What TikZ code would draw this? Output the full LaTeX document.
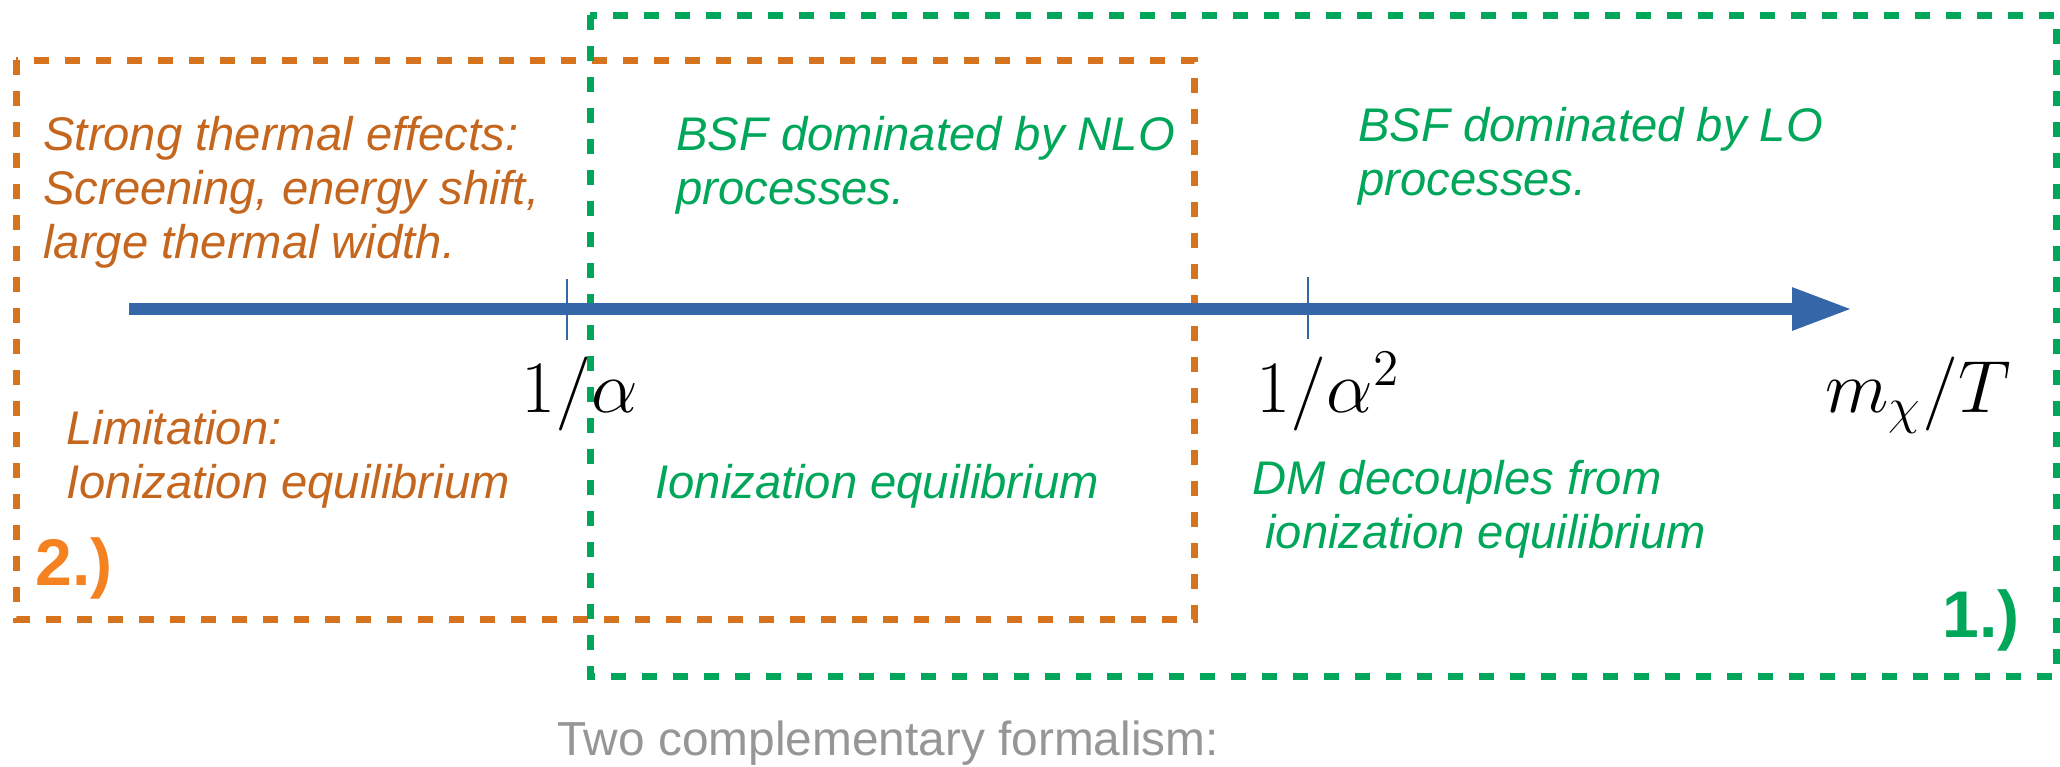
\documentclass[tikz,border=0pt]{standalone}
\usepackage[no-math]{fontspec}
\setmainfont{Liberation Sans}
\usepackage{amsmath}
\usepackage{graphicx}
\usetikzlibrary{arrows.meta}

\definecolor{boxorange}{RGB}{213,115,31}
\definecolor{txtorange}{RGB}{197,102,30}
\definecolor{numorange}{RGB}{245,130,32}
\definecolor{boxgreen}{RGB}{0,166,90}
\definecolor{axisblue}{RGB}{53,103,168}
\definecolor{capgray}{RGB}{150,150,150}

\newcommand{\bigmath}[1]{\scalebox{1.784}{$#1$}}

\tikzset{
  regionbox/.style={line width=3.5pt, dash pattern=on 7.5pt off 8pt},
  note/.style={anchor=base west, inner sep=0pt, align=left, font=\itshape\fontsize{23.6}{27}\selectfont},
  tag/.style={anchor=base west, inner sep=0pt, font=\bfseries\fontsize{33}{36}\selectfont},
  scalelabel/.style={anchor=base west, inner sep=0pt, font=\fontsize{20.74}{24}\selectfont},
  tick/.style={axisblue, line width=1pt},
  axis/.style={axisblue, line width=6pt, -{Triangle[length=30pt,width=20pt]}},
}

\begin{document}
\begin{tikzpicture}[x=0.5pt,y=0.5pt,yscale=-1,xscale=1]
\useasboundingbox (0,0) rectangle (2060,766);

%Shape: Rectangle, region 2.)
\draw [regionbox, boxorange] (16,60) rectangle (1194,619);
%Shape: Rectangle, region 1.)
\draw [regionbox, boxgreen] (590,15) rectangle (2056,676);

%Straight Lines, axis
\coordinate (axstart) at (129,309);
\coordinate (axend) at (1852,309);
\draw [axis] (axstart) -- (axend);

%Straight Lines, ticks
\coordinate (tka) at (567,309);
\coordinate (tkb) at (1308,309);
\draw [tick] (tka) ++(0,-30) -- ++(0,61);
\draw [tick] (tkb) ++(0,-32) -- ++(0,62);

% Text Node
\node [scalelabel] (lba) at (521,412) {\bigmath{1/\alpha}};
% Text Node
\node [scalelabel] (lbb) at (1256,412) {\bigmath{1/\alpha^2}};
% Text Node
\node [scalelabel] (lbc) at (1825,412) {\bigmath{m_\chi/T}};

% Text Node (anchored at the baseline of the last line)
\node [note, txtorange] (strong) at (43,258) {Strong thermal effects:\\Screening, energy shift,\\large thermal width.};
% Text Node
\node [note, txtorange] (limit) at (66,498) {Limitation:\\Ionization equilibrium};
% Text Node
\node [note, boxgreen] (nlo) at (676,204) {BSF dominated by NLO\\processes.};
% Text Node
\node [note, boxgreen] (lo) at (1358,195) {BSF dominated by LO\\processes.};
% Text Node
\node [note, boxgreen] (ioneq) at (655,498) {Ionization equilibrium};
% Text Node
\node [note, boxgreen] (decouple) at (1252,548) {DM decouples from\\\hspace*{6.5pt}ionization equilibrium};

% Text Node
\node [tag, numorange] (two) at (35,585) {2.)};
% Text Node
\node [tag, boxgreen] (one) at (1942,637) {1.)};

% Text Node
\node [anchor=base west, inner sep=0pt, capgray, font=\fontsize{23.9}{27}\selectfont] (caption) at (557,755) {Two complementary formalism:};

\end{tikzpicture}
\end{document}
